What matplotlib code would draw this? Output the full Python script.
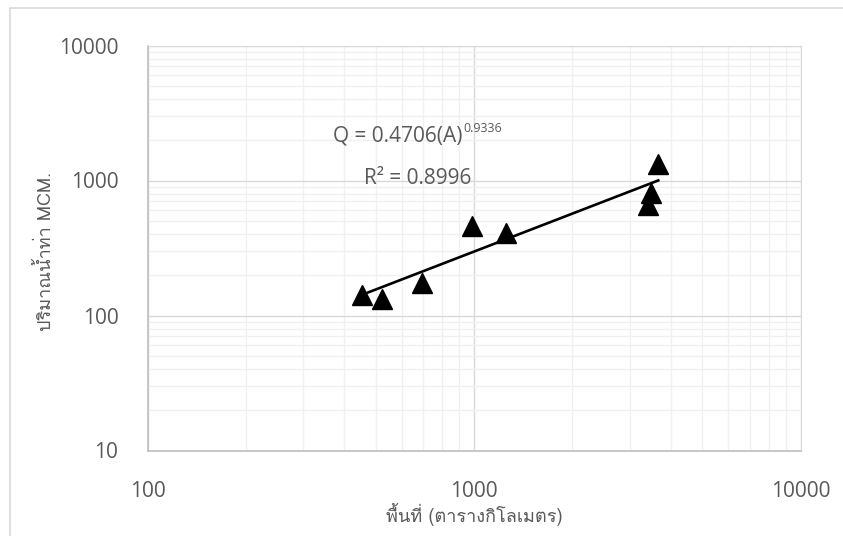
import matplotlib
matplotlib.use("Agg")
import matplotlib.pyplot as plt
from matplotlib import font_manager
from matplotlib.patches import Rectangle
from matplotlib.ticker import LogLocator, NullFormatter, FixedLocator
from fontTools.ttLib import TTFont
import numpy as np

# catchment area (km2) and annual runoff (MCM)
area = [455, 524, 692, 984, 1251, 3404, 3477, 3668]
runoff = [143, 132, 173, 460, 411, 659, 808, 1331]

coef = 0.4706
expo = 0.9336
r2 = 0.8996

xticks = [100, 1000, 10000]
yticks = [10, 100, 1000, 10000]
xlabel = "พื้นที่ (ตารางกิโลเมตร)"
ylabel = "ปริมาณน้ำท่า MCM."


def find_thai_families():
  found = []
  for f in font_manager.fontManager.ttflist:
    try:
      cmap = TTFont(f.fname, fontNumber=0, lazy=True).getBestCmap()
    except Exception:
      continue
    if cmap and 0x0E1E in cmap and f.name not in found:
      found.append(f.name)
  return found


thai = find_thai_families()
latin = ['Open Sans', 'DejaVu Sans']
plt.rcParams['font.family'] = latin
grey = '#595959'

fig = plt.figure(figsize=(8.43, 5.36), dpi=100)
W, H = 843, 536
ax = fig.add_axes([147.5 / W, 1 - 450.5 / H, 653 / W, 405 / H])

# outer chart frame
fig.patches.append(Rectangle((10 / W, -0.1), 1.2, 1 - 8 / H + 0.1, transform=fig.transFigure,
                             fill=False, edgecolor='#d9d9d9', lw=1.2))

ax.set_xscale('log')
ax.set_yscale('log')
ax.set_xlim(100, 10000)
ax.set_ylim(10, 10000)

ax.xaxis.set_major_locator(FixedLocator(xticks))
ax.yaxis.set_major_locator(FixedLocator(yticks))
ax.xaxis.set_minor_locator(LogLocator(base=10, subs=np.arange(2, 10)))
ax.yaxis.set_minor_locator(LogLocator(base=10, subs=np.arange(2, 10)))
ax.xaxis.set_minor_formatter(NullFormatter())
ax.yaxis.set_minor_formatter(NullFormatter())
ax.set_xticklabels([str(t) for t in xticks], fontsize=15, color=grey)
ax.set_yticklabels([str(t) for t in yticks], fontsize=15, color=grey)

ax.grid(which='minor', color='#f0f0f0', lw=1.0)
ax.grid(which='major', color='#d9d9d9', lw=1.0)
ax.set_axisbelow(True)
ax.tick_params(which='both', length=0)
ax.tick_params(axis='x', pad=22)
ax.tick_params(axis='y', pad=21)

for s in ['top', 'right']:
  ax.spines[s].set_color('#d9d9d9')
for s in ['left', 'bottom']:
  ax.spines[s].set_color('#bfbfbf')
  ax.spines[s].set_linewidth(1.2)

# power-law trend line across the data range
xf = np.logspace(np.log10(min(area)), np.log10(max(area)), 100)
ax.plot(xf, coef * xf ** expo, color='black', lw=1.9, zorder=3)
ax.plot(area, runoff, '^', color='black', markersize=14, zorder=4, clip_on=False)

fig.text(333 / W, 1 - 141.5 / H, f"Q = {coef}(A)", fontsize=15, color=grey,
         va='baseline', ha='left')
fig.text(463 / W, 1 - 132 / H, f"{expo}", fontsize=9, color=grey, va='baseline', ha='left')
fig.text(364 / W, 1 - 183.5 / H, f"R² = {r2}", fontsize=15, color=grey,
         va='baseline', ha='left')

fig.text(474 / W, 1 - 514 / H, xlabel, fontsize=13, color=grey, ha='center', va='center',
         family=thai[:1] + latin)
fig.text(45 / W, 1 - 251 / H, ylabel, fontsize=13, color=grey, ha='center', va='center',
         rotation=90, family=thai[:1] + latin)

fig.savefig('out.png', dpi=100)
